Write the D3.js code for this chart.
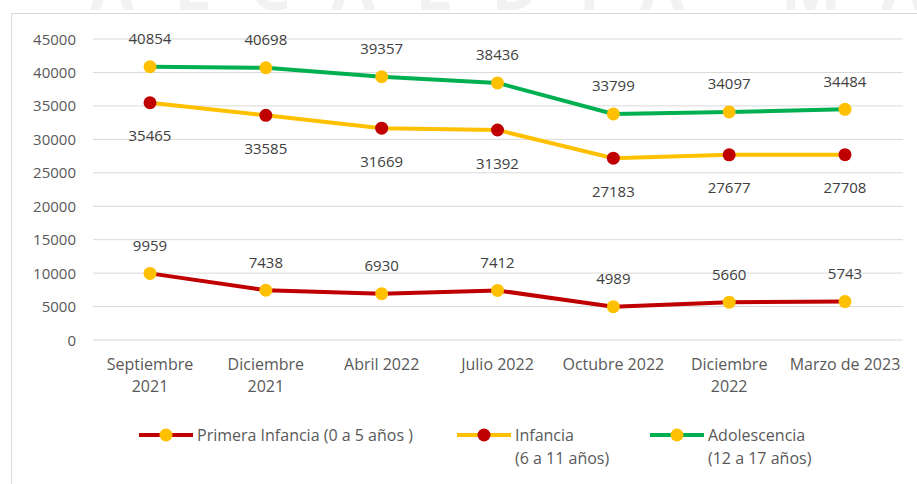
<!DOCTYPE html>
<html>
<head>
<meta charset="utf-8">
<script src="https://cdn.jsdelivr.net/npm/d3@7"></script>
<style>
  body { margin: 0; background: #fff; }
  text { font-family: "Open Sans", "Noto Sans", sans-serif; }
</style>
</head>
<body>
<svg id="chart" width="917" height="484"></svg>
<script>
"use strict";
const categories = [["Septiembre", "2021"], ["Diciembre", "2021"], ["Abril 2022"], ["Julio 2022"],
    ["Octubre 2022"], ["Diciembre", "2022"], ["Marzo de 2023"]];
const primeraInfancia = [9959, 7438, 6930, 7412, 4989, 5660, 5743];
const infancia = [35465, 33585, 31669, 31392, 27183, 27677, 27708];
const adolescencia = [40854, 40698, 39357, 38436, 33799, 34097, 34484];
const yTicks = [0, 5000, 10000, 15000, 20000, 25000, 30000, 35000, 40000, 45000];

const series = [
    { name: ["Primera Infancia (0 a 5 años )"], values: primeraInfancia, line: "#C00000", dot: "#FFC000", label: "above" },
    { name: ["Infancia", "(6 a 11 años)"], values: infancia, line: "#FFC000", dot: "#C00000", label: "below" },
    { name: ["Adolescencia", "(12 a 17 años)"], values: adolescencia, line: "#00B050", dot: "#FFC000", label: "above" }
];

function drawChart() {
    const svg = d3.select('#chart');
    const width = +svg.attr('width');
    const height = +svg.attr('height');

    // faint watermark, only its lower strip shows above the frame
    svg.append('svg')
        .attr('x', 0).attr('y', 0)
        .attr('width', width).attr('height', 13)
        .attr('overflow', 'hidden')
        .append('text')
        .attr('x', 90).attr('y', 10)
        .attr('font-size', 64).attr('font-weight', 'bold')
        .attr('fill', '#f2f2f2')
        .attr('letter-spacing', 40)
        .text('ALCALDÍA MAYOR');
    svg.append('rect')
        .attr('x', 11.5).attr('y', 13.5)
        .attr('width', width - 11).attr('height', height)
        .attr('fill', '#fff').attr('stroke', '#d9d9d9');

    const x = d3.scalePoint()
        .domain(d3.range(categories.length))
        .range([150, 845]);
    const y = d3.scaleLinear()
        .domain([0, 45000])
        .range([340, 39]);

    // gridlines
    svg.append('g').selectAll('line')
        .data(yTicks)
        .enter().append('line')
        .attr('x1', 93).attr('x2', 903)
        .attr('y1', d => y(d)).attr('y2', d => y(d))
        .attr('stroke', '#d9d9d9').attr('stroke-width', 1);

    svg.append('g').selectAll('text')
        .data(yTicks)
        .enter().append('text')
        .attr('x', 76).attr('y', d => y(d) + 5.5)
        .attr('text-anchor', 'end')
        .attr('font-size', 15).attr('fill', '#595959')
        .text(d => d);

    // category labels
    const cat = svg.append('g').selectAll('text')
        .data(categories)
        .enter().append('text')
        .attr('x', (d, i) => x(i))
        .attr('y', 370)
        .attr('text-anchor', 'middle')
        .attr('font-size', 16).attr('fill', '#595959');
    cat.selectAll('tspan')
        .data(d => d)
        .enter().append('tspan')
        .attr('x', function () { return d3.select(this.parentNode).attr('x'); })
        .attr('dy', (d, i) => i === 0 ? 0 : 22)
        .text(d => d);

    const line = d3.line()
        .x((d, i) => x(i))
        .y(d => y(d));

    series.forEach(s => {
        const g = svg.append('g');
        g.append('path')
            .datum(s.values)
            .attr('d', line)
            .attr('fill', 'none')
            .attr('stroke', s.line)
            .attr('stroke-width', 4);
        g.selectAll('circle')
            .data(s.values)
            .enter().append('circle')
            .attr('cx', (d, i) => x(i)).attr('cy', d => y(d))
            .attr('r', 6.5)
            .attr('fill', s.dot);
        g.selectAll('text')
            .data(s.values)
            .enter().append('text')
            .attr('x', (d, i) => x(i))
            .attr('y', d => s.label === 'above' ? y(d) - 22.5 : y(d) + 38.5)
            .attr('text-anchor', 'middle')
            .attr('font-size', 15).attr('fill', '#404040')
            .text(d => d);
    });

    // legend
    const legendX = [139, 457, 650];
    series.forEach((s, k) => {
        const lg = svg.append('g').attr('transform', `translate(${legendX[k]},435)`);
        lg.append('line')
            .attr('x1', 0).attr('x2', 54)
            .attr('stroke', s.line).attr('stroke-width', 4);
        lg.append('circle').attr('cx', 27).attr('r', 6.5).attr('fill', s.dot);
        const t = lg.append('text')
            .attr('x', 58).attr('y', 5.5)
            .attr('font-size', 16).attr('fill', '#595959');
        t.selectAll('tspan')
            .data(s.name)
            .enter().append('tspan')
            .attr('x', 58)
            .attr('dy', (d, i) => i === 0 ? 0 : 23)
            .text(d => d);
    });
}
drawChart();
</script>
</body>
</html>
